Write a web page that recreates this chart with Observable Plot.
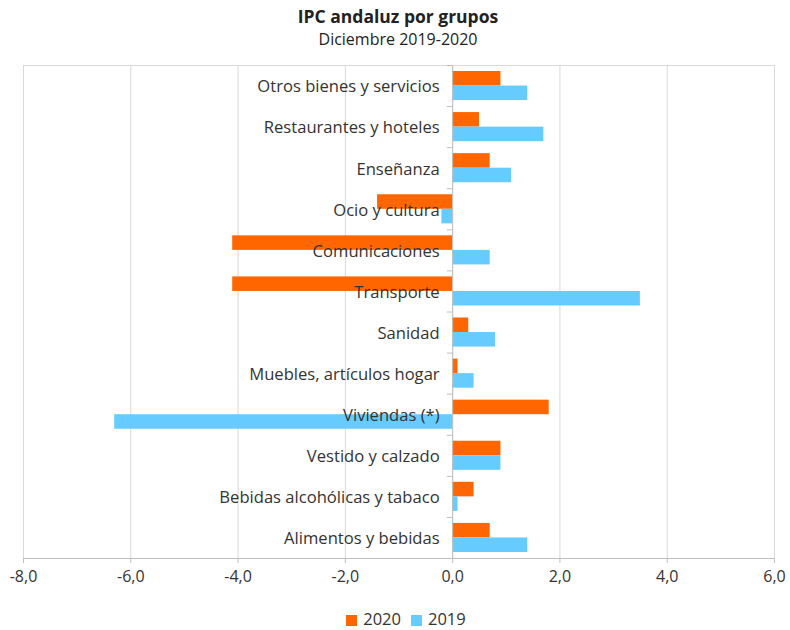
<!DOCTYPE html>
<html>
<head>
<meta charset="utf-8">
<script src="https://cdn.jsdelivr.net/npm/d3@7"></script>
<script src="https://cdn.jsdelivr.net/npm/@observablehq/plot@0.6"></script>
<style>
  body { margin: 0; background: #fff; font-family: "Open Sans", sans-serif; }
  #wrap { width: 790px; height: 630px; position: relative; }
  #title { position: absolute; top: 4px; left: 3px; width: 790px; text-align: center; font-size: 17.5px; font-weight: bold; color: #222; }
  #subtitle { position: absolute; top: 28px; left: 3px; width: 790px; text-align: center; font-size: 16px; color: #222; }
  #chart { position: absolute; top: 55px; left: 0; }
  #legend { position: absolute; top: 607px; left: 6px; width: 790px; text-align: center; font-size: 16.5px; line-height: 24px; color: #333; }
  #legend span.sw { display: inline-block; width: 11px; height: 11px; margin: 0 6px 0 10px; vertical-align: -1px; }
</style>
</head>
<body>
<div id="wrap">
  <div id="title">IPC andaluz por grupos</div>
  <div id="subtitle">Diciembre 2019-2020</div>
  <div id="chart"></div>
  <div id="legend"></div>
</div>
<script>
const categories = ["Otros bienes y servicios", "Restaurantes y hoteles", "Enseñanza", "Ocio y cultura", "Comunicaciones", "Transporte", "Sanidad", "Muebles, artículos hogar", "Viviendas (*)", "Vestido y calzado", "Bebidas alcohólicas y tabaco", "Alimentos y bebidas"];
const values2020 = [0.9, 0.5, 0.7, -1.4, -4.1, -4.1, 0.3, 0.1, 1.8, 0.9, 0.4, 0.7];
const values2019 = [1.4, 1.7, 1.1, -0.2, 0.7, 3.5, 0.8, 0.4, -6.3, 0.9, 0.1, 1.4];
const seriesNames = ["2020", "2019"];
const seriesColors = ["#FF6600", "#66CCFF"];
const xTicks = [-8, -6, -4, -2, 0, 2, 4, 6];

const rows = categories.map((c, i) => ({category: c, i, v2020: values2020[i], v2019: values2019[i]}));
const bounds = d3.range(categories.length + 1).map(k => k - 0.5);
const fmt = d => d.toFixed(1).replace(".", ",").replace("-0,0", "0,0");
const half = 0.354;

const chart = Plot.plot({
  width: 790,
  height: 545,
  marginTop: 10,
  marginBottom: 42,
  marginLeft: 23,
  marginRight: 16,
  style: {fontFamily: "'Open Sans', sans-serif", fontSize: "16px", color: "#333"},
  x: {domain: [-8, 6], ticks: xTicks, tickFormat: fmt, tickSize: 5, tickPadding: 7, label: null},
  y: {domain: [categories.length - 0.5, -0.5], axis: null},
  marks: [
    Plot.ruleX(xTicks, {stroke: "#d9d9d9", strokeWidth: 1}),
    Plot.ruleY([-0.5], {stroke: "#d9d9d9", strokeWidth: 1}),
    Plot.rect(rows, {x1: 0, x2: "v2020", y1: d => d.i - half, y2: d => d.i, fill: seriesColors[0]}),
    Plot.rect(rows, {x1: 0, x2: "v2019", y1: d => d.i, y2: d => d.i + half, fill: seriesColors[1]}),
    Plot.ruleX([0], {y1: -0.5, y2: categories.length - 0.5, stroke: "#bfbfbf"}),
    Plot.ruleY(bounds, {x1: -0.1, x2: 0, stroke: "#bfbfbf"}),
    Plot.ruleY([categories.length - 0.5], {stroke: "#bfbfbf"}),
    Plot.text(rows, {x: 0, y: "i", text: "category", textAnchor: "end", dx: -13, dy: 1, fill: "#333", fontSize: 16.6})
  ]
});
chart.querySelectorAll("[aria-label='x-axis tick']").forEach(e => e.setAttribute("stroke", "#bfbfbf"));
document.getElementById("chart").appendChild(chart);

const legend = document.getElementById("legend");
seriesNames.forEach((s, k) => {
  const sw = document.createElement("span");
  sw.className = "sw";
  sw.style.background = seriesColors[k];
  legend.appendChild(sw);
  legend.appendChild(document.createTextNode(s));
});
</script>
</body>
</html>
